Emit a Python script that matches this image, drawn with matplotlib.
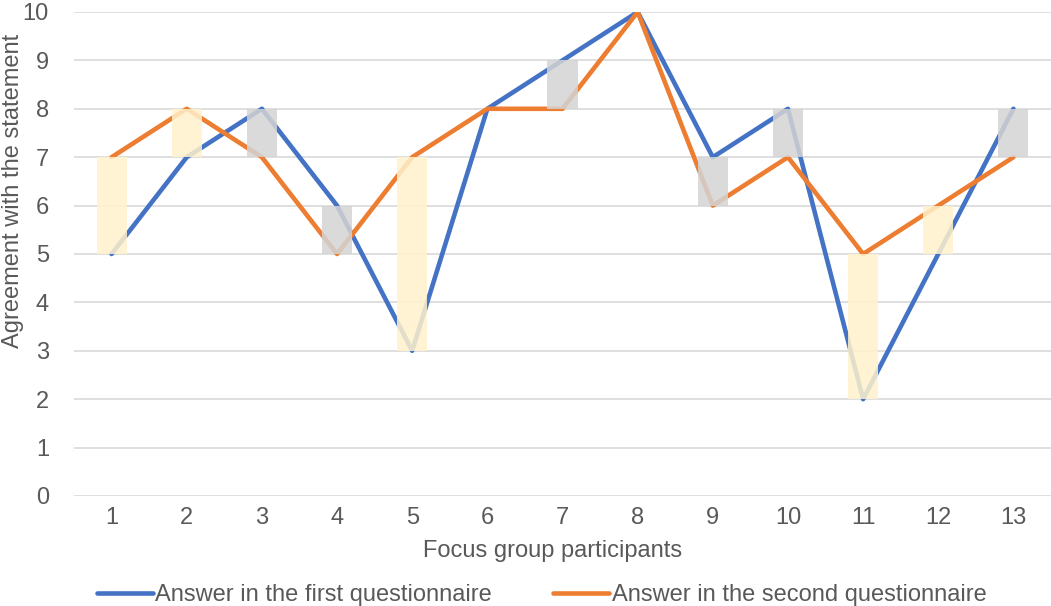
import numpy as np
import matplotlib.pyplot as plt

plt.rcParams["font.family"] = ["Liberation Sans", "DejaVu Sans"]

participants = [str(i) for i in range(1, 14)]
first_answers = [5, 7, 8, 6, 3, 8, 9, 10, 7, 8, 2, 5, 8]
second_answers = [7, 8, 7, 5, 7, 8, 8, 10, 6, 7, 5, 6, 7]

BLUE = "#4472C4"
ORANGE = "#ED7D31"
UP = "#FFF2CC"
DOWN = "#D4D4D4"
TEXT = "#595959"
FS = 17

fig = plt.figure(figsize=(10.51, 6.06), dpi=100)
ax = fig.add_axes([74 / 1051, 1 - 496 / 606, 977 / 1051, 484 / 606])

x = np.arange(1, len(participants) + 1)
first = np.array(first_answers)
second = np.array(second_answers)

ax.plot(x, first, color=BLUE, lw=3.3, solid_capstyle="round", zorder=2,
        label="Answer in the first questionnaire")
ax.plot(x, second, color=ORANGE, lw=3.3, solid_capstyle="round", zorder=2,
        label="Answer in the second questionnaire")

# up/down bars between the two answers
lo = np.minimum(first, second)
hi = np.maximum(first, second)
colors = [UP if s > f else DOWN for f, s in zip(first, second)]
ax.bar(x, hi - lo, bottom=lo, width=0.4, color=colors, alpha=0.85, zorder=3)

ax.set_xlim(0.5, len(participants) + 0.5)
ax.set_ylim(0, 10)
ax.set_yticks(range(0, 11))
ax.set_xticks(x)
ax.set_xticklabels(participants)
ax.yaxis.grid(True, color="#D9D9D9", lw=1.2)
ax.set_axisbelow(True)
for s in ax.spines.values():
    s.set_visible(False)
ax.tick_params(length=0, labelsize=FS, labelcolor=TEXT, pad=8)
ax.tick_params(axis="y", pad=18)

ax.set_xlabel("Focus group participants", fontsize=FS, color=TEXT)
ax.xaxis.set_label_coords(0.49, -0.091)
ax.set_ylabel("Agreement with the statement", fontsize=FS, color=TEXT)
ax.yaxis.set_label_coords(-0.051, 0.63)

fig.legend(loc="lower center", bbox_to_anchor=(0.5155, -0.035), ncol=2,
           frameon=False, fontsize=FS, labelcolor=TEXT, handlelength=2.35,
           handletextpad=0.12, columnspacing=2.6)

fig.savefig("out.png", dpi=100)
